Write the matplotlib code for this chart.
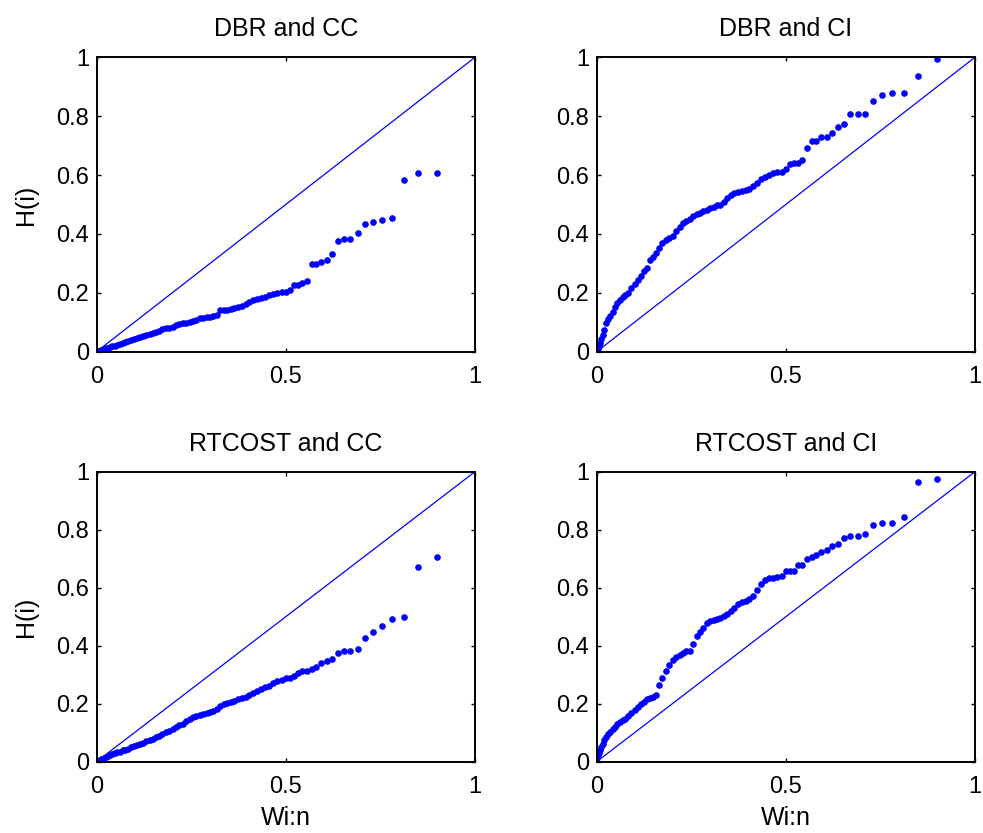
import numpy as np
import matplotlib
matplotlib.use("Agg")
import matplotlib.pyplot as plt
from matplotlib.ticker import FuncFormatter

plt.rcParams['font.family'] = ['Liberation Sans', 'DejaVu Sans']

# scaled total time on test values, shared by all four panels
wi_n = [0.000, 0.003, 0.006, 0.009, 0.012, 0.016, 0.020, 0.025, 0.030, 0.036,
        0.042, 0.048, 0.055, 0.062, 0.069, 0.076, 0.084, 0.092, 0.100, 0.108,
        0.116, 0.124, 0.132, 0.140, 0.148, 0.156, 0.165, 0.174, 0.183, 0.192,
        0.201, 0.210, 0.219, 0.228, 0.237, 0.246, 0.255, 0.264, 0.273, 0.282,
        0.291, 0.300, 0.309, 0.318, 0.327, 0.336, 0.345, 0.354, 0.364, 0.374,
        0.384, 0.394, 0.404, 0.414, 0.424, 0.434, 0.445, 0.456, 0.467, 0.478,
        0.489, 0.500, 0.510, 0.522, 0.532, 0.544, 0.555, 0.569, 0.581, 0.594,
        0.608, 0.623, 0.638, 0.655, 0.671, 0.690, 0.709, 0.731, 0.755, 0.781,
        0.812, 0.849, 0.899]

h_dbr_cc = [0.000, 0.001, 0.003, 0.004, 0.005, 0.007, 0.009, 0.011, 0.014, 0.017,
            0.019, 0.021, 0.024, 0.027, 0.030, 0.033, 0.036, 0.040, 0.043, 0.047,
            0.051, 0.054, 0.058, 0.061, 0.064, 0.067, 0.071, 0.077, 0.080, 0.082,
            0.085, 0.089, 0.093, 0.096, 0.098, 0.102, 0.105, 0.109, 0.113, 0.115,
            0.117, 0.119, 0.122, 0.125, 0.141, 0.142, 0.143, 0.145, 0.148, 0.151,
            0.156, 0.163, 0.169, 0.174, 0.178, 0.182, 0.187, 0.192, 0.197, 0.201,
            0.204, 0.204, 0.211, 0.225, 0.225, 0.232, 0.240, 0.297, 0.297, 0.305,
            0.311, 0.333, 0.376, 0.383, 0.383, 0.404, 0.433, 0.441, 0.447, 0.455,
            0.584, 0.606, 0.606]

h_dbr_ci = [0.000, 0.010, 0.020, 0.030, 0.042, 0.058, 0.075, 0.098, 0.110, 0.122,
            0.135, 0.153, 0.164, 0.176, 0.186, 0.192, 0.198, 0.218, 0.230, 0.243,
            0.258, 0.273, 0.283, 0.313, 0.320, 0.335, 0.353, 0.370, 0.380, 0.386,
            0.394, 0.411, 0.425, 0.437, 0.445, 0.452, 0.460, 0.468, 0.472, 0.477,
            0.483, 0.488, 0.493, 0.497, 0.500, 0.510, 0.523, 0.531, 0.538, 0.544,
            0.546, 0.549, 0.554, 0.563, 0.573, 0.585, 0.595, 0.600, 0.606, 0.609,
            0.611, 0.621, 0.637, 0.642, 0.642, 0.650, 0.693, 0.716, 0.716, 0.729,
            0.729, 0.744, 0.764, 0.773, 0.808, 0.808, 0.808, 0.852, 0.873, 0.880,
            0.880, 0.937, 0.994]

h_rt_cc = [0.000, 0.002, 0.004, 0.006, 0.008, 0.010, 0.013, 0.016, 0.019, 0.023,
           0.026, 0.029, 0.032, 0.035, 0.039, 0.042, 0.045, 0.049, 0.053, 0.057,
           0.061, 0.066, 0.071, 0.075, 0.079, 0.084, 0.089, 0.095, 0.102, 0.107,
           0.114, 0.118, 0.125, 0.131, 0.139, 0.148, 0.153, 0.157, 0.161, 0.164,
           0.168, 0.172, 0.176, 0.182, 0.192, 0.198, 0.203, 0.207, 0.210, 0.215,
           0.220, 0.223, 0.230, 0.236, 0.243, 0.252, 0.256, 0.261, 0.270, 0.278,
           0.282, 0.290, 0.290, 0.297, 0.305, 0.312, 0.312, 0.319, 0.326, 0.340,
           0.346, 0.353, 0.376, 0.382, 0.382, 0.389, 0.425, 0.447, 0.469, 0.491,
           0.498, 0.670, 0.707]

h_rt_ci = [0.000, 0.018, 0.030, 0.040, 0.050, 0.062, 0.075, 0.086, 0.095, 0.104,
           0.112, 0.121, 0.130, 0.138, 0.143, 0.148, 0.156, 0.168, 0.178, 0.188,
           0.198, 0.206, 0.215, 0.220, 0.222, 0.230, 0.263, 0.290, 0.312, 0.335,
           0.350, 0.361, 0.369, 0.376, 0.381, 0.383, 0.405, 0.434, 0.448, 0.460,
           0.477, 0.486, 0.489, 0.491, 0.497, 0.504, 0.511, 0.519, 0.530, 0.545,
           0.550, 0.555, 0.560, 0.570, 0.592, 0.612, 0.627, 0.632, 0.635, 0.638,
           0.640, 0.657, 0.657, 0.657, 0.678, 0.678, 0.699, 0.707, 0.714, 0.722,
           0.729, 0.744, 0.751, 0.771, 0.778, 0.778, 0.786, 0.815, 0.822, 0.822,
           0.844, 0.966, 0.974]

titles = ["DBR and CC", "DBR and CI", "RTCOST and CC", "RTCOST and CI"]
series = [h_dbr_cc, h_dbr_ci, h_rt_cc, h_rt_ci]

fig = plt.figure(figsize=(9.83, 8.33), dpi=100)
rects = [[0.0982, 0.5778, 0.3850, 0.3534],
         [0.6070, 0.5778, 0.3848, 0.3534],
         [0.0982, 0.0856, 0.3850, 0.3481],
         [0.6070, 0.0856, 0.3848, 0.3481]]

fmt = FuncFormatter(lambda v, p: "%g" % v)

for k in range(4):
    ax = fig.add_axes(rects[k])
    ax.plot([0, 1], [0, 1], color="blue", lw=0.9)
    ax.plot(wi_n, series[k], ".", color="blue", markersize=7.5)
    ax.set_xlim(0, 1)
    ax.set_ylim(0, 1)
    ax.set_xticks([0, 0.5, 1])
    ax.set_yticks([0, 0.2, 0.4, 0.6, 0.8, 1])
    ax.xaxis.set_major_formatter(fmt)
    ax.yaxis.set_major_formatter(fmt)
    ax.tick_params(direction="in", top=True, right=True, labelsize=17,
                   length=3, width=1.0)
    ax.tick_params(axis="x", pad=10)
    ax.tick_params(axis="y", pad=5.5)
    for s in ax.spines.values():
        s.set_linewidth(1.4)
    ax.set_title(titles[k], fontsize=18, pad=15)
    if k % 2 == 0:
        ax.set_ylabel("H(i)", fontsize=18, labelpad=13)
    if k >= 2:
        ax.set_xlabel("Wi:n", fontsize=18, labelpad=6)

fig.savefig("out.png", dpi=100)
